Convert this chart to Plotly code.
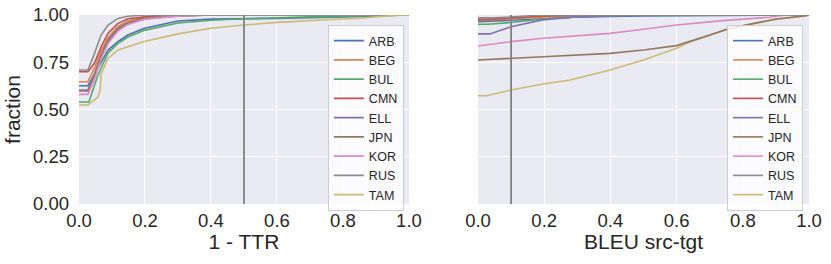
import plotly.graph_objects as go
from plotly.subplots import make_subplots

LANGS = ["ARB", "BEG", "BUL", "CMN", "ELL", "JPN", "KOR", "RUS", "TAM"]
COLORS = ["#4C72B0", "#DD8452", "#55A868", "#C44E52", "#8172B3",
          "#937860", "#DA8BC3", "#8C8C8C", "#CCB974"]

# ---- left panel: ECDF of 1 - TTR ----
TTR_X = {
    "ARB": [0, 0.027, 0.057, 0.088, 0.118, 0.148, 0.198, 0.3, 0.4, 0.6, 0.8, 0.95, 1.0],
    "BEG": [0, 0.027, 0.047, 0.067, 0.088, 0.118, 0.148, 0.2, 0.3, 1.0],
    "BUL": [0, 0.03, 0.057, 0.088, 0.118, 0.15, 0.2, 0.3, 0.4, 0.5, 0.7, 0.9, 1.0],
    "CMN": [0, 0.027, 0.047, 0.067, 0.088, 0.118, 0.148, 0.198, 0.25, 1.0],
    "ELL": [0, 0.027, 0.047, 0.067, 0.088, 0.118, 0.148, 0.2, 0.3, 0.4, 1.0],
    "JPN": [0, 0.027, 0.047, 0.067, 0.088, 0.118, 0.148, 0.2, 0.3, 0.4, 1.0],
    "KOR": [0, 0.027, 0.047, 0.067, 0.088, 0.118, 0.148, 0.2, 0.3, 0.4, 1.0],
    "RUS": [0, 0.027, 0.047, 0.067, 0.088, 0.118, 0.148, 0.2, 1.0],
    "TAM": [0, 0.027, 0.057, 0.064, 0.067, 0.088, 0.118, 0.198, 0.3, 0.4, 0.5, 0.6, 0.75, 0.85, 0.97, 1.0],
}
TTR_Y = {
    "ARB": [0.626, 0.626, 0.718, 0.815, 0.859, 0.894, 0.93, 0.968, 0.978, 0.982, 0.99, 0.996, 1.0],
    "BEG": [0.647, 0.647, 0.72, 0.81, 0.88, 0.94, 0.97, 0.99, 1.0, 1.0],
    "BUL": [0.54, 0.54, 0.68, 0.80, 0.85, 0.885, 0.92, 0.958, 0.972, 0.98, 0.99, 0.997, 1.0],
    "CMN": [0.70, 0.70, 0.746, 0.832, 0.903, 0.956, 0.98, 0.99, 1.0, 1.0],
    "ELL": [0.598, 0.598, 0.68, 0.78, 0.86, 0.92, 0.955, 0.98, 0.995, 1.0, 1.0],
    "JPN": [0.603, 0.603, 0.69, 0.79, 0.87, 0.93, 0.96, 0.985, 0.995, 1.0, 1.0],
    "KOR": [0.58, 0.58, 0.66, 0.77, 0.85, 0.915, 0.95, 0.978, 0.994, 1.0, 1.0],
    "RUS": [0.709, 0.709, 0.797, 0.894, 0.947, 0.982, 0.993, 1.0, 1.0],
    "TAM": [0.524, 0.524, 0.565, 0.60, 0.69, 0.77, 0.815, 0.86, 0.9, 0.93, 0.947, 0.961, 0.975, 0.983, 1.0, 1.0],
}

# ---- right panel: ECDF of BLEU src-tgt ----
BLEU_X = {
    "ARB": [0, 0.03, 0.1, 0.2, 0.3, 0.5, 0.8, 1.0],
    "BEG": [0, 0.03, 0.1, 0.2, 0.35, 1.0],
    "BUL": [0, 0.03, 0.1, 0.2, 0.3, 0.5, 1.0],
    "CMN": [0, 0.03, 0.1, 0.2, 0.3, 1.0],
    "ELL": [0, 0.036, 0.1, 0.195, 0.296, 0.5, 1.0],
    "JPN": [0, 0.099, 0.197, 0.399, 0.5, 0.6, 0.64, 0.70, 0.76, 0.83, 0.90, 0.99, 1.0],
    "KOR": [0, 0.099, 0.197, 0.399, 0.5, 0.6, 0.74, 0.88, 0.93, 1.0],
    "RUS": [0, 0.05, 0.2, 1.0],
    "TAM": [0, 0.026, 0.099, 0.197, 0.278, 0.399, 0.5, 0.6, 0.64, 0.70, 0.76, 0.83, 0.90, 0.99, 1.0],
}
BLEU_Y = {
    "ARB": [0.965, 0.966, 0.972, 0.98, 0.99, 0.995, 1.0, 1.0],
    "BEG": [0.972, 0.972, 0.98, 0.99, 1.0, 1.0],
    "BUL": [0.951, 0.951, 0.96, 0.98, 0.99, 1.0, 1.0],
    "CMN": [0.977, 0.977, 0.985, 0.995, 1.0, 1.0],
    "ELL": [0.90, 0.90, 0.938, 0.974, 0.99, 1.0, 1.0],
    "JPN": [0.762, 0.772, 0.779, 0.797, 0.815, 0.838, 0.859, 0.894, 0.93, 0.956, 0.979, 0.996, 1.0],
    "KOR": [0.836, 0.859, 0.877, 0.903, 0.925, 0.947, 0.97, 0.988, 1.0, 1.0],
    "RUS": [0.985, 0.985, 1.0, 1.0],
    "TAM": [0.573, 0.573, 0.603, 0.635, 0.656, 0.709, 0.762, 0.824, 0.857, 0.891, 0.927, 0.953, 0.977, 0.995, 1.0],
}

# drawing order per panel (legend order is kept by legendrank)
DRAW_ORDER = [LANGS, ["ARB", "BEG", "BUL", "CMN", "ELL", "KOR", "RUS", "TAM", "JPN"]]

VLINE_X = [0.5, 0.1]
X_TICKS = [0.0, 0.2, 0.4, 0.6, 0.8, 1.0]
X_TICKTEXT = ["0.0", "0.2", "0.4", "0.6", "0.8", "1.0"]
Y_TICKS = [0.0, 0.25, 0.5, 0.75, 1.0]
Y_TICKTEXT = ["0.00", "0.25", "0.50", "0.75", "1.00"]
X_TITLES = ["1 - TTR", "BLEU src-tgt"]
Y_TITLE = "fraction"

FONT = "Arial, Liberation Sans, sans-serif"
TXT = "#262626"

fig = make_subplots(rows=1, cols=2, shared_yaxes=True, horizontal_spacing=0.0946)
fig.update_xaxes(domain=[0, 0.452], col=1)
fig.update_xaxes(domain=[0.5466, 1.0], col=2)

color_of = dict(zip(LANGS, COLORS))
for panel, (XS, YS, leg) in enumerate([(TTR_X, TTR_Y, "legend"), (BLEU_X, BLEU_Y, "legend2")]):
    for lang in DRAW_ORDER[panel]:
        fig.add_trace(go.Scatter(
            x=XS[lang], y=YS[lang], mode="lines", name=lang,
            line=dict(color=color_of[lang], width=1.6), legend=leg,
            legendrank=1000 + LANGS.index(lang),
            showlegend=True, hoverinfo="skip"), row=1, col=panel + 1)

for i, vx in enumerate(VLINE_X):
    fig.add_vline(x=vx, line=dict(color="#808080", width=1.8), row=1, col=i + 1, layer="above")

axis_common = dict(
    range=[0, 1], showgrid=True, gridcolor="white", gridwidth=1.3,
    zeroline=False, showline=False, ticks="", automargin=False,
    tickfont=dict(family=FONT, size=18.5, color=TXT),
)
TITLE_FONT = dict(family=FONT, size=21, color=TXT)
for i in range(2):
    fig.update_xaxes(tickvals=X_TICKS, ticktext=X_TICKTEXT,
                     title=dict(text=X_TITLES[i], font=TITLE_FONT, standoff=2),
                     **axis_common, row=1, col=i + 1)
fig.update_yaxes(tickvals=Y_TICKS, ticktext=Y_TICKTEXT,
                 title=dict(text=Y_TITLE, font=TITLE_FONT, standoff=6),
                 **axis_common, row=1, col=1)
fig.update_yaxes(tickvals=Y_TICKS, showticklabels=False,
                 **{k: v for k, v in axis_common.items() if k != "tickfont"}, row=1, col=2)
fig.update_xaxes(ticklabelstandoff=3)
fig.update_yaxes(ticklabelstandoff=9, row=1, col=1)

leg_style = dict(
    bgcolor="rgba(255,255,255,0.8)", bordercolor="#CCCCCC", borderwidth=1,
    font=dict(family=FONT, size=12.5, color=TXT), yanchor="top", xanchor="right",
    tracegroupgap=0, itemwidth=30,
)
fig.update_layout(
    width=831, height=264,
    margin=dict(l=79, r=22, t=15, b=60),
    paper_bgcolor="white", plot_bgcolor="#EAEAF2",
    legend=dict(x=0.445, y=0.947, **leg_style),
    legend2=dict(x=0.9918, y=0.947, **leg_style),
    font=dict(family=FONT, color=TXT),
)

fig.write_html(
    "out.html",
    config={"displayModeBar": False},
    post_script="document.body.style.margin='0';document.body.style.overflow='hidden';",
)
